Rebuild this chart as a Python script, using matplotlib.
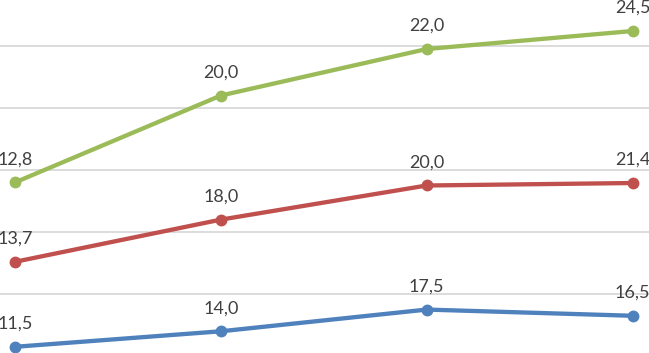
import numpy as np
import matplotlib
matplotlib.use("Agg")
import matplotlib.pyplot as plt

categories = [0, 1, 2, 3]
series_blue = [11.5, 14.0, 17.5, 16.5]
series_red = [13.7, 18.0, 20.0, 21.4]
series_green = [12.8, 20.0, 22.0, 24.5]
colors = ["#4F81BD", "#C0504D", "#9BBB59"]

fig = plt.figure(figsize=(6.49, 3.53), dpi=100)
ax = fig.add_axes([0, 0, 1, 1])

stack = np.cumsum(np.array([series_blue, series_red, series_green]), axis=0)
raw = [series_blue, series_red, series_green]

for ytick in [20, 30, 40, 50, 60]:
    ax.axhline(ytick, color="#D9D9D9", lw=1.3, zorder=1)

for i in range(3):
    ax.plot(categories, stack[i], color=colors[i], lw=3.1, marker="o", ms=7.5,
            solid_capstyle="round", zorder=3)
    for x, y, v in zip(categories, stack[i], raw[i]):
        ax.annotate(f"{v:.1f}".replace(".", ","), (x, y), xytext=(0, 13),
                    textcoords="offset points", ha="center", va="baseline",
                    fontsize=13, color="#404040", family="Lato", zorder=4)

ax.set_xlim(-0.073, 3.08)
ax.set_ylim(10.5, 67.4)
ax.axis("off")
fig.savefig("out.png", dpi=100)
